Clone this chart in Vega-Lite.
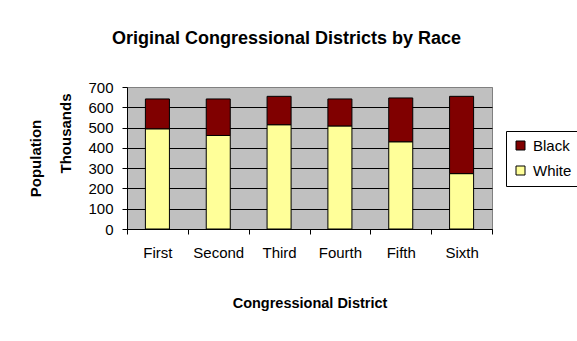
{
  "$schema": "https://vega.github.io/schema/vega-lite/v6.json",
  "autosize": {"type": "none"},
  "width": 365,
  "height": 142,
  "padding": {"left": 127, "top": 87, "right": 85, "bottom": 112},
  "background": "white",
  "title": {
    "text": "Original Congressional Districts by Race",
    "fontSize": 18,
    "fontWeight": "bold",
    "font": "Liberation Sans",
    "color": "black",
    "anchor": "middle",
    "frame": "group",
    "dx": -23,
    "baseline": "alphabetic",
    "offset": 18
  },
  "data": {
    "values": [
      {"district": "First", "race": "White", "population": 494},
      {"district": "First", "race": "Black", "population": 147},
      {"district": "Second", "race": "White", "population": 461},
      {"district": "Second", "race": "Black", "population": 180},
      {"district": "Third", "race": "White", "population": 514},
      {"district": "Third", "race": "Black", "population": 140},
      {"district": "Fourth", "race": "White", "population": 508},
      {"district": "Fourth", "race": "Black", "population": 133},
      {"district": "Fifth", "race": "White", "population": 430},
      {"district": "Fifth", "race": "Black", "population": 216},
      {"district": "Sixth", "race": "White", "population": 273},
      {"district": "Sixth", "race": "Black", "population": 381}
    ]
  },
  "encoding": {
    "x": {
      "field": "district",
      "type": "nominal",
      "sort": ["First", "Second", "Third", "Fourth", "Fifth", "Sixth"],
      "scale": {"paddingInner": 0, "paddingOuter": 0},
      "axis": {
        "title": "Congressional District",
        "titleFontSize": 14.5,
        "titleFontWeight": "bold",
        "titlePadding": 36,
        "labelAngle": 0,
        "labelFontSize": 15,
        "labelPadding": 11,
        "tickBand": "extent",
        "tickSize": 5,
        "tickColor": "black",
        "domainColor": "black",
        "labelColor": "black",
        "titleColor": "black",
        "grid": false
      }
    }
  },
  "layer": [
    {
      "mark": {"type": "bar", "width": {"band": 0.395}, "stroke": "black", "strokeWidth": 1},
      "encoding": {
        "y": {
          "field": "population",
          "type": "quantitative",
          "stack": "zero",
          "scale": {"domain": [0, 700], "nice": false},
          "axis": {
            "values": [0, 100, 200, 300, 400, 500, 600, 700],
            "title": "Population",
            "titleFontSize": 15,
            "titleFontWeight": "bold",
            "titlePadding": 44,
            "titleColor": "black",
            "labelFontSize": 15,
            "labelColor": "black",
            "labelPadding": 9,
            "tickSize": 5,
            "tickColor": "black",
            "domainColor": "black",
            "grid": true,
            "gridColor": {"condition": {"test": "datum.value == 700", "value": "#808080"}, "value": "black"},
            "gridOpacity": 1
          }
        },
        "color": {
          "field": "race",
          "type": "nominal",
          "scale": {"domain": ["Black", "White"], "range": ["#800000", "#FFFF99"]},
          "legend": {
            "title": null,
            "orient": "none",
            "legendX": 379,
            "legendY": 44,
            "padding": 7,
            "strokeColor": "black",
            "fillColor": "white",
            "symbolType": "square",
            "symbolSize": 81,
            "symbolStrokeColor": "black",
            "symbolStrokeWidth": 1,
            "symbolOpacity": 1,
            "labelFontSize": 15,
            "labelColor": "black",
            "labelOffset": 5,
            "rowPadding": 9
          }
        },
        "order": {"field": "race", "sort": "descending"}
      }
    },
    {
      "mark": {"type": "bar", "opacity": 0, "strokeOpacity": 0, "width": {"band": 0.395}},
      "encoding": {
        "y": {
          "field": "population",
          "type": "quantitative",
          "stack": "zero",
          "axis": {
            "orient": "left",
            "title": "Thousands",
            "titleFontSize": 15,
            "titleFontWeight": "bold",
            "titleColor": "black",
            "titlePadding": 54,
            "titleY": 46,
            "labels": false,
            "ticks": false,
            "domain": false,
            "grid": false
          }
        }
      }
    }
  ],
  "resolve": {"axis": {"y": "independent"}},
  "config": {
    "font": "Liberation Sans",
    "view": {"fill": "#C0C0C0", "stroke": "#808080", "strokeWidth": 1}
  }
}
